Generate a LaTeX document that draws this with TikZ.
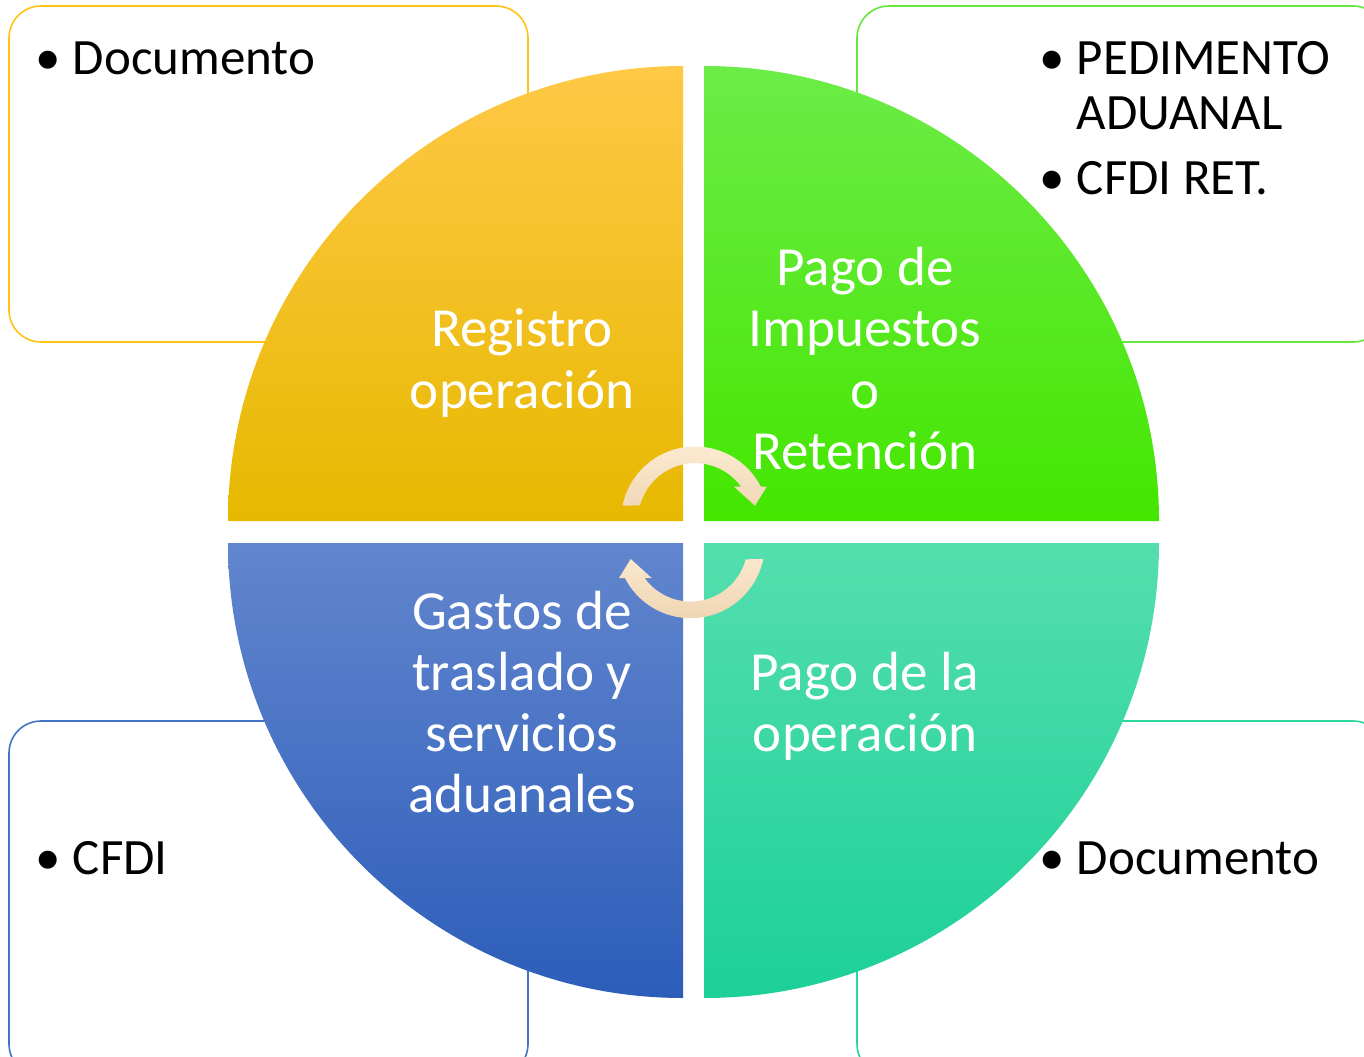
\documentclass[tikz,border=0pt]{standalone}
\usepackage{fontspec}
\setmainfont{Carlito}
\definecolor{ylTop}{RGB}{255,200,70}
\definecolor{ylMid}{RGB}{253,198,0}
\definecolor{ylBot}{RGB}{230,185,0}
\definecolor{grTop}{RGB}{108,236,72}
\definecolor{grMid}{RGB}{80,242,25}
\definecolor{grBot}{RGB}{68,230,0}
\definecolor{blTop}{RGB}{98,134,206}
\definecolor{blMid}{RGB}{70,114,200}
\definecolor{blBot}{RGB}{44,93,185}
\definecolor{tqTop}{RGB}{84,222,174}
\definecolor{tqMid}{RGB}{40,218,165}
\definecolor{tqBot}{RGB}{28,208,152}
\definecolor{ylLine}{RGB}{255,195,20}
\definecolor{grLine}{RGB}{100,230,60}
\definecolor{blLine}{RGB}{68,114,196}
\definecolor{tqLine}{RGB}{40,215,160}
\definecolor{arTop}{RGB}{253,236,212}
\definecolor{arBot}{RGB}{238,211,176}
\begin{document}
\begin{tikzpicture}[x=0.02cm,y=0.02cm,
  boxline/.style={line width=0.9pt, rounded corners=0.64cm},
  btext/.style={font=\fontsize{29}{31.3}\selectfont, inner sep=0, anchor=base west, text=black},
  bul/.style={font=\fontsize{29}{31.3}\selectfont, inner sep=0, anchor=base, text=black},
  qlab/.style={font=\fontsize{31.4}{34.7}\selectfont, inner sep=0, anchor=base, text=white},
  arrowfill/.style={top color=arTop, bottom color=arBot}]
\useasboundingbox (0,0) rectangle (1364,1056);
\fill[white] (0,0) rectangle (1364,1056);
\clip (0,0) rectangle (1364,1056);
% outer boxes
\draw[boxline, draw=ylLine] (9,714) rectangle (528,1050);
\draw[boxline, draw=grLine] (857,714) rectangle (1385,1050);
\draw[boxline, draw=blLine] (9,335) rectangle (528,-20);
\draw[boxline, draw=tqLine] (857,335) rectangle (1385,-20);
% quadrants
\shade[top color=ylTop, middle color=ylMid, bottom color=ylBot]
  (683,535) -- ++(-455,0) arc (180:90:455) -- cycle;
\shade[top color=grTop, middle color=grMid, bottom color=grBot]
  (704,535) -- ++(0,455) arc (90:0:455) -- cycle;
\shade[top color=blTop, middle color=blMid, bottom color=blBot]
  (683,513) -- ++(-455,0) arc (180:270:455) -- cycle;
\shade[top color=tqTop, middle color=tqMid, bottom color=tqBot]
  (704,513) -- ++(455,0) arc (0:-90:455) -- cycle;
% circular arrows
\coordinate (ca) at (695,535.5);
\coordinate (cb) at (690.7,511.8);
\shade[arrowfill] (ca) ++(168.5:74) arc (168.5:27.2:74)
  -- (766.7,569.3) -- (755,550.3) -- (734,569.3) -- (741.2,569.3)
  arc (35.9:165:57) -- cycle;
\shade[arrowfill] (cb) ++(348.5:74) arc (348.5:207.2:74)
  -- (619,478) -- (630.7,497) -- (651.7,478) -- (644.5,478)
  arc (215.9:345:57) -- cycle;
% quadrant labels
\node[qlab] (y1) at (522,709) {Registro};
\node[qlab] (y2) at (522,648) {operación};
\node[qlab] (g1) at (865,770) {Pago de};
\node[qlab] (g2) at (865,709) {Impuestos};
\node[qlab] (g3) at (865,648) {o};
\node[qlab] (g4) at (865,587) {Retención};
\node[qlab] (b1) at (522,427) {Gastos de};
\node[qlab] (b2) at (522,366) {traslado y};
\node[qlab] (b3) at (522,305) {servicios};
\node[qlab] (b4) at (522,244) {aduanales};
\node[qlab] (t1) at (865,366) {Pago de la};
\node[qlab] (t2) at (865,305) {operación};
% box texts
\node[bul] (tlb) at (48,981) {•};
\node[btext] (tlt) at (72.5,981) {Documento};
\node[bul] (trb1) at (1052,981) {•};
\node[btext] (trt1) at (1076.5,981) {PEDIMENTO};
\node[btext] (trt2) at (1076.5,926) {ADUANAL};
\node[bul] (trb2) at (1052,861) {•};
\node[btext] (trt3) at (1076.5,861) {CFDI RET.};
\node[bul] (blb) at (48,182) {•};
\node[btext] (blt) at (72.5,182) {CFDI};
\node[bul] (brb) at (1052,182) {•};
\node[btext] (brt) at (1076.5,182) {Documento};
\end{tikzpicture}
\end{document}
